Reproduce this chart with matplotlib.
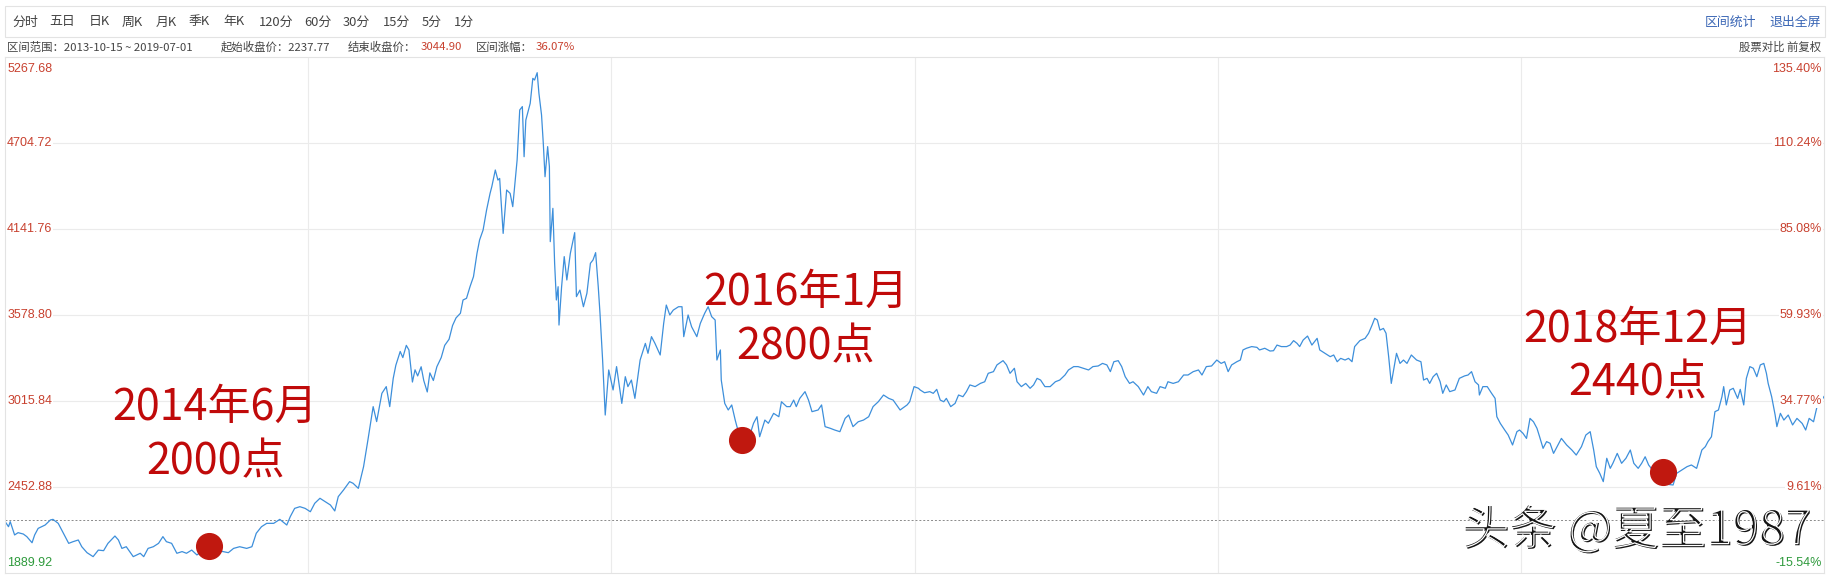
import matplotlib
matplotlib.use("Agg")
import matplotlib.pyplot as plt
import matplotlib.patheffects as pe
from matplotlib.patches import Rectangle
import pandas as pd

W, H = 1841, 575
CJK = ["Noto Sans CJK SC", "DejaVu Sans"]
NUM = ["Liberation Sans", "DejaVu Sans"]

start = pd.Timestamp("2013-10-15")
end = pd.Timestamp("2019-07-01")
base_close = 2237.77
end_close = 3044.90

# calendar days after 2013-10-15, closing level
days = [
    1, 4, 6, 11, 15, 21, 25, 31, 34, 38, 42, 46, 52, 55, 61, 67, 73, 78, 84, 88,
    94, 101, 107, 113, 118, 126, 130, 134, 139, 147, 155, 159, 164, 170, 176, 181, 185, 191, 197, 203,
    208, 214, 220, 225, 230, 237, 243, 250, 256, 262, 269, 277, 283, 288, 294, 300, 308, 315, 323, 327,
    332, 338, 344, 350, 355, 361, 367, 373, 378, 382, 388, 395, 399, 405, 411, 416, 422, 426, 432, 437,
    441, 445, 448, 453, 456, 460, 463, 467, 470, 473, 477, 480, 484, 487, 491, 495, 500, 504, 509, 513,
    517, 522, 525, 529, 533, 537, 541, 544, 548, 552, 556, 558, 562, 565, 567, 571, 575, 579, 582, 587,
    590, 593, 595, 597, 602, 605, 607, 610, 612, 615, 617, 619, 622, 624, 625, 628, 630, 632, 634, 635,
    638, 641, 644, 648, 653, 655, 659, 663, 667, 671, 674, 677, 680, 682, 685, 688, 692, 697, 701, 707,
    711, 714, 718, 722, 728, 734, 737, 741, 745, 751, 755, 758, 762, 766, 772, 776, 778, 783, 787, 793,
    797, 802, 806, 810, 814, 816, 820, 821, 825, 829, 833, 837, 839, 844, 848, 853, 858, 862, 865, 871,
    875, 881, 887, 890, 896, 900, 904, 907, 911, 917, 921, 925, 932, 936, 940, 946, 951, 957, 963, 967,
    972, 978, 984, 990, 995, 1001, 1007, 1013, 1018, 1022, 1026, 1034, 1037, 1042, 1047, 1049, 1054, 1060, 1064, 1068,
    1072, 1076, 1079, 1084, 1089, 1093, 1098, 1102, 1106, 1112, 1118, 1123, 1127, 1133, 1137, 1144, 1148, 1152, 1157, 1160,
    1165, 1170, 1175, 1179, 1183, 1187, 1192, 1198, 1204, 1209, 1215, 1219, 1225, 1230, 1236, 1242, 1247, 1253, 1258, 1263,
    1267, 1271, 1276, 1280, 1284, 1289, 1293, 1299, 1305, 1310, 1314, 1320, 1324, 1330, 1333, 1339, 1345, 1351, 1356, 1362,
    1368, 1372, 1377, 1383, 1389, 1394, 1398, 1402, 1406, 1412, 1416, 1419, 1423, 1429, 1435, 1438, 1444, 1450, 1454, 1458,
    1463, 1469, 1473, 1477, 1481, 1484, 1488, 1493, 1498, 1504, 1507, 1513, 1519, 1523, 1527, 1531, 1536, 1540, 1544, 1547,
    1553, 1559, 1563, 1567, 1570, 1573, 1576, 1580, 1583, 1586, 1589, 1591, 1595, 1599, 1603, 1607, 1612, 1618, 1623, 1626,
    1630, 1633, 1637, 1641, 1645, 1648, 1652, 1656, 1662, 1667, 1673, 1677, 1681, 1685, 1689, 1690, 1694, 1699, 1704, 1708,
    1710, 1714, 1719, 1723, 1728, 1733, 1736, 1740, 1744, 1748, 1752, 1756, 1759, 1763, 1767, 1771, 1775, 1779, 1784, 1790,
    1796, 1801, 1807, 1812, 1817, 1821, 1824, 1828, 1832, 1836, 1840, 1843, 1848, 1853, 1858, 1863, 1867, 1872, 1876, 1880,
    1884, 1889, 1895, 1900, 1906, 1912, 1916, 1922, 1928, 1933, 1939, 1945, 1949, 1952, 1956, 1960, 1964, 1968, 1970, 1973,
    1977, 1981, 1986, 1989, 1993, 1996, 2000, 2004, 2008, 2012, 2016, 2019, 2021, 2025, 2029, 2031, 2035, 2039, 2044, 2049,
    2054, 2060, 2064, 2068, 2073, 2077, 2080, 2085,
]
close = [
    2219, 2193, 2226, 2139, 2154, 2145, 2128, 2088, 2139, 2182, 2193, 2204, 2237, 2241, 2215, 2150, 2084, 2095, 2106, 2062,
    2023, 1997, 2040, 2036, 2084, 2132, 2106, 2051, 2062, 1997, 2019, 1997, 2051, 2062, 2084, 2128, 2095, 2084, 2019, 2030,
    2019, 2040, 2008, 2030, 2015, 2030, 2035, 2030, 2023, 2051, 2062, 2051, 2062, 2150, 2193, 2215, 2215, 2241, 2204, 2259,
    2313, 2324, 2313, 2291, 2346, 2379, 2357, 2335, 2296, 2390, 2433, 2488, 2477, 2444, 2586, 2761, 2979, 2881, 3066, 3110,
    2979, 3164, 3250, 3340, 3300, 3380, 3350, 3140, 3220, 3180, 3240, 3150, 3075, 3200, 3150, 3240, 3300, 3380, 3420, 3510,
    3560, 3590, 3677, 3688, 3764, 3830, 3982, 4070, 4135, 4266, 4375, 4419, 4528, 4462, 4473, 4113, 4397, 4375, 4288, 4593,
    4921, 4943, 4615, 4855, 4964, 5128, 5117, 5165, 5030, 4888, 4703, 4484, 4681, 4550, 4059, 4277, 3917, 3677, 3764, 3513,
    3764, 3961, 3808, 3982, 4118, 3699, 3742, 3633, 3721, 3917, 3939, 3987, 3764, 3590, 3284, 2924, 3219, 3088, 3241, 3000,
    3175, 3110, 3153, 3033, 3284, 3393, 3328, 3437, 3393, 3317, 3524, 3644, 3579, 3611, 3633, 3633, 3437, 3579, 3502, 3437,
    3524, 3590, 3633, 3568, 3546, 3284, 3350, 3153, 3000, 2957, 2990, 2891, 2848, 2760, 2690, 2780, 2870, 2913, 2782, 2891,
    2870, 2935, 2913, 3011, 2979, 2979, 3022, 2979, 3033, 3077, 3022, 2946, 2957, 2990, 2848, 2837, 2826, 2815, 2902, 2924,
    2848, 2880, 2891, 2913, 2979, 3011, 3055, 3033, 3022, 2990, 2957, 2990, 3011, 3110, 3099, 3088, 3070, 3077, 3066, 3092,
    3022, 3011, 3033, 2979, 3000, 3055, 3044, 3077, 3121, 3110, 3131, 3142, 3197, 3208, 3252, 3280, 3252, 3197, 3230, 3142,
    3110, 3131, 3099, 3121, 3164, 3153, 3110, 3110, 3142, 3153, 3186, 3219, 3241, 3241, 3230, 3219, 3241, 3245, 3262, 3252,
    3208, 3273, 3280, 3241, 3175, 3131, 3142, 3110, 3055, 3110, 3077, 3066, 3110, 3099, 3142, 3131, 3142, 3186, 3186, 3208,
    3219, 3186, 3241, 3245, 3284, 3262, 3273, 3208, 3252, 3273, 3284, 3350, 3361, 3372, 3367, 3350, 3361, 3343, 3345, 3382,
    3372, 3372, 3382, 3411, 3393, 3372, 3415, 3441, 3382, 3426, 3350, 3328, 3306, 3317, 3273, 3295, 3284, 3295, 3273, 3372,
    3411, 3426, 3459, 3513, 3557, 3546, 3480, 3491, 3459, 3306, 3131, 3197, 3328, 3262, 3284, 3262, 3317, 3284, 3273, 3153,
    3164, 3131, 3175, 3197, 3142, 3066, 3121, 3077, 3088, 3164, 3180, 3186, 3208, 3142, 3121, 3055, 3110, 3110, 3066, 3033,
    2913, 2869, 2826, 2793, 2728, 2815, 2826, 2804, 2771, 2902, 2880, 2837, 2782, 2706, 2750, 2739, 2673, 2717, 2771, 2728,
    2695, 2662, 2717, 2793, 2815, 2695, 2586, 2542, 2488, 2641, 2575, 2608, 2673, 2608, 2641, 2695, 2608, 2575, 2608, 2651,
    2597, 2560, 2520, 2490, 2470, 2466, 2542, 2564, 2586, 2597, 2575, 2695, 2717, 2750, 2782, 2946, 2957, 3044, 3110, 2990,
    3088, 3099, 3033, 3092, 2990, 3164, 3241, 3230, 3175, 3252, 3262, 3197, 3131, 3044, 2924, 2848, 2935, 2891, 2924, 2859,
    2902, 2869, 2826, 2902, 2880, 2979, 3000, 3045,
]

# highlighted lows
dot_days = [234, 845, 1900]
dot_values = [2067, 2761, 2551]
dot_labels = [("2014年6月", "2000点"), ("2016年1月", "2800点"), ("2018年12月", "2440点")]

y_ticks = [1889.92, 2452.88, 3015.84, 3578.80, 4141.76, 4704.72, 5267.68]
pct_labels = ["-15.54%", "9.61%", "34.77%", "59.93%", "85.08%", "110.24%", "135.40%"]

periods = ["分时", "五日", "日K", "周K", "月K", "季K", "年K", "120分", "60分", "30分", "15分", "5分", "1分"]
period_x = [12, 49, 89, 122, 156, 189, 223, 259, 304, 343, 383, 422, 454]

dates = start + pd.to_timedelta(days, unit="D")
dot_dates = start + pd.to_timedelta(dot_days, unit="D")

RED = "#c8412f"
GREEN = "#2e9a3c"
GRID = "#ebebeb"
BLUE = "#3d8fdb"
MARK = "#c0180f"

fig = plt.figure(figsize=(W / 100, H / 100), dpi=100)
fig.patch.set_facecolor("white")


def fx(x):
    return x / W


def fy(y):
    return 1 - y / H


# toolbar
fig.patches.append(Rectangle((fx(5), fy(37)), fx(1825) - fx(5), fy(6) - fy(37),
                             transform=fig.transFigure, fill=False,
                             edgecolor="#e3e3e3", linewidth=0.8))
for name, x in zip(periods, period_x):
    fig.text(fx(x), fy(22), name, family=CJK, fontsize=9.3, color="#444444",
             ha="left", va="center")
fig.text(fx(1756), fy(22), "区间统计", family=CJK, fontsize=9.3, color="#3a66b5",
         ha="right", va="center")
fig.text(fx(1821), fy(22), "退出全屏", family=CJK, fontsize=9.3, color="#3a66b5",
         ha="right", va="center")

# info line
info_y = fy(47)
fig.text(fx(7), info_y, f"区间范围：{start:%Y-%m-%d} ~ {end:%Y-%m-%d}", family=CJK,
         fontsize=8.2, color="#444444", ha="left", va="center")
fig.text(fx(221), info_y, f"起始收盘价：{base_close:.2f}", family=CJK, fontsize=8.2,
         color="#444444", ha="left", va="center")
fig.text(fx(348), info_y, "结束收盘价：", family=CJK, fontsize=8.2, color="#444444",
         ha="left", va="center")
fig.text(fx(421), info_y, f"{end_close:.2f}", family=CJK, fontsize=8.2, color=RED,
         ha="left", va="center")
fig.text(fx(476), info_y, "区间涨幅：", family=CJK, fontsize=8.2, color="#444444",
         ha="left", va="center")
fig.text(fx(536), info_y, f"{(end_close / base_close - 1) * 100:.2f}%", family=CJK,
         fontsize=8.2, color=RED, ha="left", va="center")
fig.text(fx(1821), info_y, "股票对比 前复权", family=CJK, fontsize=8.2, color="#444444",
         ha="right", va="center")

# chart area
ax = fig.add_axes([fx(5), fy(573), fx(1824) - fx(5), fy(57) - fy(573)])
ax.set_xlim(start, end)
ax.set_ylim(y_ticks[0], y_ticks[-1])
for s in ax.spines.values():
    s.set_color("#e3e3e3")
    s.set_linewidth(0.8)
ax.set_xticks([])
ax.set_yticks([])

for v in y_ticks[1:-1]:
    ax.axhline(v, color=GRID, linewidth=0.8, zorder=0)
for i in range(1, 6):
    ax.axvline(start + (end - start) * i / 6, color=GRID, linewidth=0.8, zorder=0)
ax.axhline(base_close, color="#8a8a8a", linewidth=0.7, linestyle=(0, (2, 2)), zorder=1)

ax.plot(dates, close, color=BLUE, linewidth=0.9, zorder=2)
ax.plot(dot_dates, dot_values, "o", color=MARK, markersize=18.5, zorder=3)

# value labels on both sides
n = len(y_ticks)
for i, (v, p) in enumerate(zip(y_ticks, pct_labels)):
    col = GREEN if i == 0 else RED
    va = "bottom" if i == 0 else ("top" if i == n - 1 else "center")
    off = 3 if i == 0 else (-4 if i == n - 1 else 0)
    kw = dict(family=NUM, fontsize=9, color=col, va=va, zorder=4,
              bbox=dict(facecolor="white", edgecolor="none", pad=0.6))
    ax.annotate(f"{v:.2f}", (0, v), xycoords=("axes fraction", "data"),
                xytext=(1.5, off), textcoords="offset points", ha="left", **kw)
    ax.annotate(p, (1, v), xycoords=("axes fraction", "data"),
                xytext=(-1.5, off), textcoords="offset points", ha="right", **kw)

# annotations for the lows
text_pos = [(241, 2970, 2617), (918, 3723, 3369), (1871, 3481, 3134)]
for (l1, l2), (d, y1, y2) in zip(dot_labels, text_pos):
    t = start + pd.Timedelta(days=d)
    ax.text(t, y1, l1, family=CJK, fontsize=31, color="#c00a0a", ha="center",
            va="center", zorder=5)
    ax.text(t, y2, l2, family=CJK, fontsize=31, color="#c00a0a", ha="center",
            va="center", zorder=5)

# watermark, embossed look
fig.text(fx(1463), fy(532), "头条 @夏至1987", family=CJK, fontsize=34, color="#151515",
         ha="left", va="center", zorder=10,
         path_effects=[pe.Normal(),
                       pe.PathPatchEffect(offset=(-1.2, 1.2), facecolor="none",
                                          edgecolor="white", linewidth=0.9)])

fig.savefig("out.png", dpi=100, facecolor="white")
